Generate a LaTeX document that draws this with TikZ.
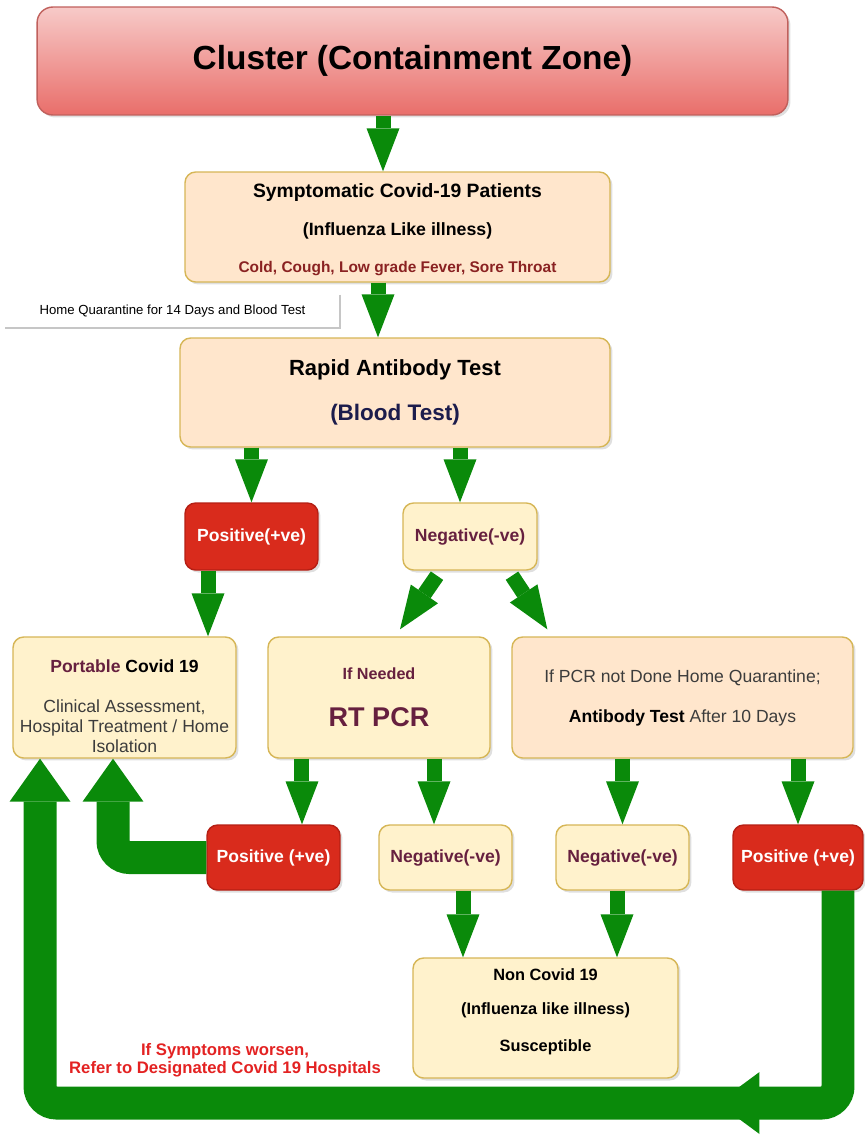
\documentclass[tikz,border=0pt]{standalone}
\usepackage{fontspec}
\setmainfont{Liberation Sans}
\usepackage{xcolor}
\usepackage{tikz}
\usetikzlibrary{arrows.meta,shadows,decorations.markings}

\definecolor{clustertop}{HTML}{F7CAC8}
\definecolor{clusterbot}{HTML}{E96E6A}
\definecolor{clusterline}{HTML}{C0605C}
\definecolor{peach}{HTML}{FFE6CC}
\definecolor{cream}{HTML}{FFF2CC}
\definecolor{goldline}{HTML}{D6B656}
\definecolor{alertred}{HTML}{D92B1C}
\definecolor{alertline}{HTML}{B51F14}
\definecolor{arrowgreen}{HTML}{0A8A0A}
\definecolor{plum}{HTML}{66203F}
\definecolor{symptomred}{HTML}{8A2222}
\definecolor{inknavy}{HTML}{1C1C4C}
\definecolor{textgray}{HTML}{3C3C3C}
\definecolor{warnred}{HTML}{E32222}

\newcommand{\fsz}[1]{\fontsize{#1}{#1}\selectfont}

\begin{document}
\begin{tikzpicture}[x=0.02cm, y=-0.02cm,
    box/.style={rounded corners=6pt, draw=goldline, line width=0.8pt, align=center, inner sep=0pt,
      drop shadow={opacity=0.25, shadow xshift=0.05cm, shadow yshift=-0.05cm}},
    peachbox/.style={box, fill=peach},
    creambox/.style={box, fill=cream},
    redbox/.style={box, fill=alertred, draw=alertline, text=white},
    garrow/.style={draw=arrowgreen, line width=0.3cm, -{Triangle[width=0.66cm, length=0.86cm, line width=0pt]}},
    gloop/.style={draw=arrowgreen, line width=0.66cm, rounded corners=0.33cm, -{Triangle[width=1.22cm, length=0.86cm, line width=0pt]}}]
    \useasboundingbox (0,0) rectangle (865,1136);

    % boxes, top to bottom
    \node[box, top color=clustertop, bottom color=clusterbot, draw=clusterline, rounded corners=9pt, minimum width=15.02cm, minimum height=2.16cm, font=\fsz{19}\bfseries] (cluster) at (412.5,61) {Cluster (Containment Zone)};
    \node[peachbox, minimum width=8.5cm, minimum height=2.2cm, font=\fontsize{11}{21.3}\selectfont\bfseries] (symp) at (397.5,227) {\rule{0pt}{11pt}Symptomatic Covid-19 Patients\\{\fsz{10.1}(Influenza Like illness)}\\{\fsz{8.8}\color{symptomred}Cold, Cough, Low grade Fever, Sore Throat}};
    \node[fill=white, minimum width=6.7cm, minimum height=0.66cm, inner sep=0pt, font=\fsz{7.5}] (note) at (172.5,311.5) {Home Quarantine for 14 Days and Blood Test};
    \draw[gray!45, line width=1.2pt] (note.north east) -- (note.south east) -- (note.south west);
    \node[peachbox, minimum width=8.6cm, minimum height=2.18cm, font=\fontsize{12.5}{25.6}\selectfont\bfseries] (rapid) at (395,392.5) {Rapid Antibody Test\\{\fsz{12.8}\color{inknavy}(Blood Test)}};

    \node[redbox, minimum width=2.66cm, minimum height=1.34cm, font=\fsz{10}\bfseries] (pos1) at (251.5,536.5) {Positive(+ve)};
    \node[creambox, minimum width=2.68cm, minimum height=1.34cm, font=\fsz{10}\bfseries, text=plum] (neg1) at (470,536.5) {Negative(-ve)};

    \node[creambox, minimum width=4.46cm, minimum height=2.42cm, font=\fontsize{10}{11.4}\selectfont] (port) at (124.5,697.5) {\rule{0pt}{17.4pt}\textbf{\color{plum}Portable} \textbf{Covid 19}\\[11.4pt]{\color{textgray}Clinical Assessment,}\\{\color{textgray}Hospital Treatment / Home}\\{\color{textgray}Isolation}};
    \node[creambox, minimum width=4.44cm, minimum height=2.42cm, font=\fontsize{9.2}{26.7}\selectfont\bfseries, text=plum] (rtpcr) at (379,697.5) {If Needed\\{\fsz{15.4}RT PCR}};
    \node[peachbox, minimum width=6.82cm, minimum height=2.42cm, font=\fontsize{10}{22.8}\selectfont, text=textgray] (pcrnd) at (682.5,697.5) {If PCR not Done Home Quarantine;\\{\color{black}\textbf{Antibody Test}} After 10 Days};

    \node[redbox, minimum width=2.66cm, minimum height=1.3cm, font=\fsz{10}\bfseries] (pos2) at (273.5,857.5) {Positive (+ve)};
    \node[creambox, minimum width=2.66cm, minimum height=1.3cm, font=\fsz{10}\bfseries, text=plum] (neg2) at (445.5,857.5) {Negative(-ve)};
    \node[creambox, minimum width=2.66cm, minimum height=1.3cm, font=\fsz{10}\bfseries, text=plum] (neg3) at (622.5,857.5) {Negative(-ve)};
    \node[redbox, minimum width=2.6cm, minimum height=1.3cm, font=\fsz{10}\bfseries] (pos3) at (798,857.5) {Positive (+ve)};

    \node[creambox, minimum width=5.3cm, minimum height=2.4cm, font=\fontsize{9.3}{19.5}\selectfont\bfseries] (noncov) at (545.5,1018) {Non Covid 19\\(Influenza like illness)\\[1.5pt]Susceptible\rule[-9pt]{0pt}{0pt}};
    \node[font=\fontsize{9.5}{10.2}\selectfont\bfseries, text=warnred, align=center] (worsen) at (225,1060) {If Symptoms worsen,\\Refer to Designated Covid 19 Hospitals};

    % arrows
    \draw[garrow] ([xshift=-0.59cm]cluster.south) -- ([xshift=-0.59cm]cluster.south |- symp.north);
    \draw[garrow] ([xshift=-0.39cm]symp.south) -- ([xshift=-0.39cm]symp.south |- rapid.north);
    \draw[garrow] (pos1.north |- rapid.south) -- (pos1.north);
    \draw[garrow] ([xshift=-0.2cm]neg1.north |- rapid.south) -- ([xshift=-0.2cm]neg1.north);
    \draw[garrow] ([xshift=-0.87cm]pos1.south) -- ([xshift=-0.87cm]pos1.south |- port.north);
    \draw[garrow] ([xshift=-0.66cm, yshift=-0.1cm]neg1.south) -- ([xshift=0.42cm, yshift=0.14cm]rtpcr.north);
    \draw[garrow] ([xshift=0.84cm, yshift=-0.1cm]neg1.south) -- ([xshift=0.72cm, yshift=0.14cm]pcrnd.north west);
    \draw[garrow] ([xshift=0.57cm]pos2.north |- rtpcr.south) -- ([xshift=0.57cm]pos2.north);
    \draw[garrow] ([xshift=-0.23cm]neg2.north |- rtpcr.south) -- ([xshift=-0.23cm]neg2.north);
    \draw[garrow] (neg3.north |- pcrnd.south) -- (neg3.north);
    \draw[garrow] (pos3.north |- pcrnd.south) -- (pos3.north);
    \draw[garrow] ([xshift=0.35cm]neg2.south) -- ([xshift=0.35cm]neg2.south |- noncov.north);
    \draw[garrow] ([xshift=-0.11cm]neg3.south) -- ([xshift=-0.11cm]neg3.south |- noncov.north);

    % loops back to the Covid box
    \draw[gloop] (pos2.west) -| ([xshift=-0.23cm]port.south);
    \coordinate (loopbase) at (440,1103);
    \draw[gloop, postaction={decorate, decoration={markings, mark=at position 0.243 with {\arrow[arrowgreen]{Triangle[width=1.24cm, length=0.84cm, line width=0pt]}}}}] ([xshift=0.8cm]pos3.south) |- (loopbase) -| ([xshift=-1.69cm]port.south);
\end{tikzpicture}
\end{document}
